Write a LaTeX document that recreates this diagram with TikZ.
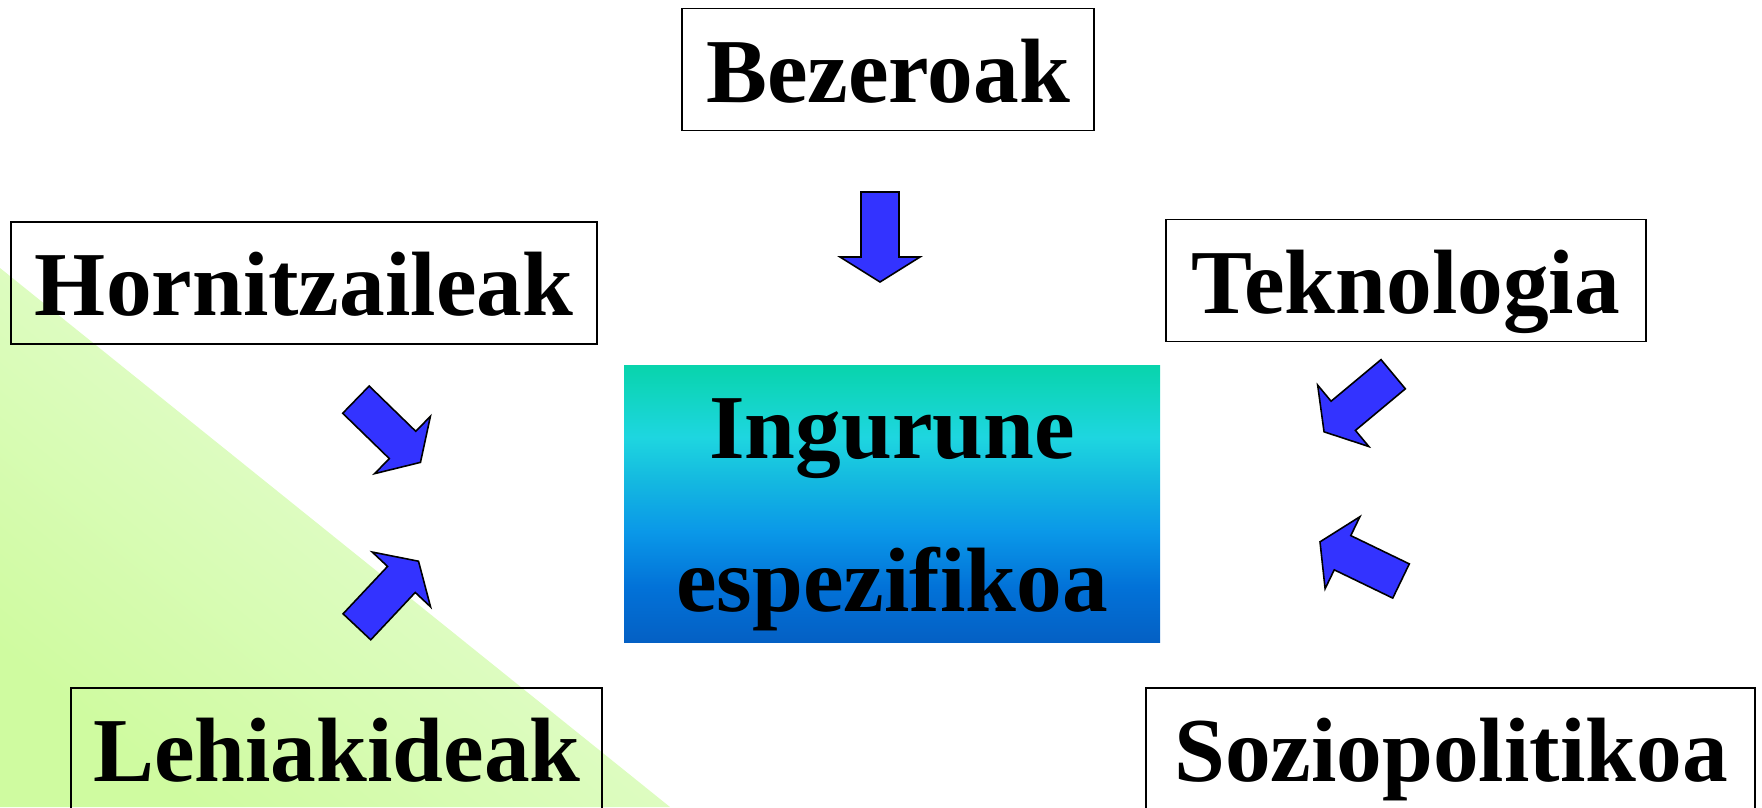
\documentclass[tikz,border=0pt]{standalone}
\usepackage{fontspec}
\setmainfont{Liberation Serif}
\definecolor{geziablue}{HTML}{3333FF}
\definecolor{bgargi}{HTML}{EBFDE0}
\definecolor{bgilun}{HTML}{CFFBA0}
\definecolor{ingT}{HTML}{08D4AC}
\definecolor{ingC}{HTML}{1ED6E0}
\definecolor{ingM}{HTML}{14B8E0}
\definecolor{ingB}{HTML}{0A98E8}
\definecolor{ingL}{HTML}{0272D8}
\definecolor{ingD}{HTML}{0460C4}
\pgfdeclareverticalshading{ingurune}{100bp}{color(0bp)=(ingD); color(25bp)=(ingD); color(35bp)=(ingL); color(45bp)=(ingB); color(54bp)=(ingM); color(62bp)=(ingC); color(75bp)=(ingT); color(100bp)=(ingT)}

\begin{document}
\begin{tikzpicture}[
        kutxa/.style = {draw, line width=0.55pt, inner sep=0pt, minimum height=1.22cm,
            text height=26.7pt, text depth=8pt, font=\fontsize{26}{30}\selectfont\bfseries},
        gezia/.pic = {
            \draw[fill=geziablue, line width=0.45pt] (-0.45,0.19) -- (0.2,0.19) -- (0.2,0.40) -- (0.45,0)
                -- (0.2,-0.40) -- (0.2,-0.19) -- (-0.45,-0.19) -- cycle;
        }
    ]
        \useasboundingbox (0,0) rectangle (17.62,8.07);
        \clip (0,0) rectangle (17.62,8.07);
        \shade[top color=bgargi, bottom color=bgilun, shading angle=-39] (0,5.39) -- (0,0) -- (6.70,0) -- cycle;

        \node (ingurune) at (8.92,3.0325) [shade, shading=ingurune, inner sep=0pt, minimum width=5.36cm, minimum height=2.775cm,
            text height=70.1pt, text depth=8.8pt, align=center, font=\fontsize{26}{43.6}\selectfont\bfseries] {Ingurune\\espezifikoa};

        \node[kutxa, minimum width=4.12cm] (bezeroak) at (8.88,7.375) {Bezeroak};
        \node[kutxa, minimum width=5.86cm] (hornitzaileak) at (3.04,5.24) {Hornitzaileak};
        \node[kutxa, minimum width=4.80cm] (teknologia) at (14.058,5.265) {Teknologia};
        \node[kutxa, minimum width=5.31cm] (lehiakideak) at (3.368,0.58) {Lehiakideak};
        \node[kutxa, minimum width=6.09cm] (soziopolitikoa) at (14.509,0.58) {Soziopolitikoa};

        \pic[rotate=-90] at (8.80,5.70) {gezia};
        \pic[rotate=-44.2] at (3.882,3.76) {gezia};
        \pic[rotate=46.8] at (3.877,2.13) {gezia};
        \pic[rotate=219.8] at (13.586,4.04) {gezia};
        \pic[rotate=154.2] at (13.605,2.456) {gezia};
    \end{tikzpicture}
\end{document}
